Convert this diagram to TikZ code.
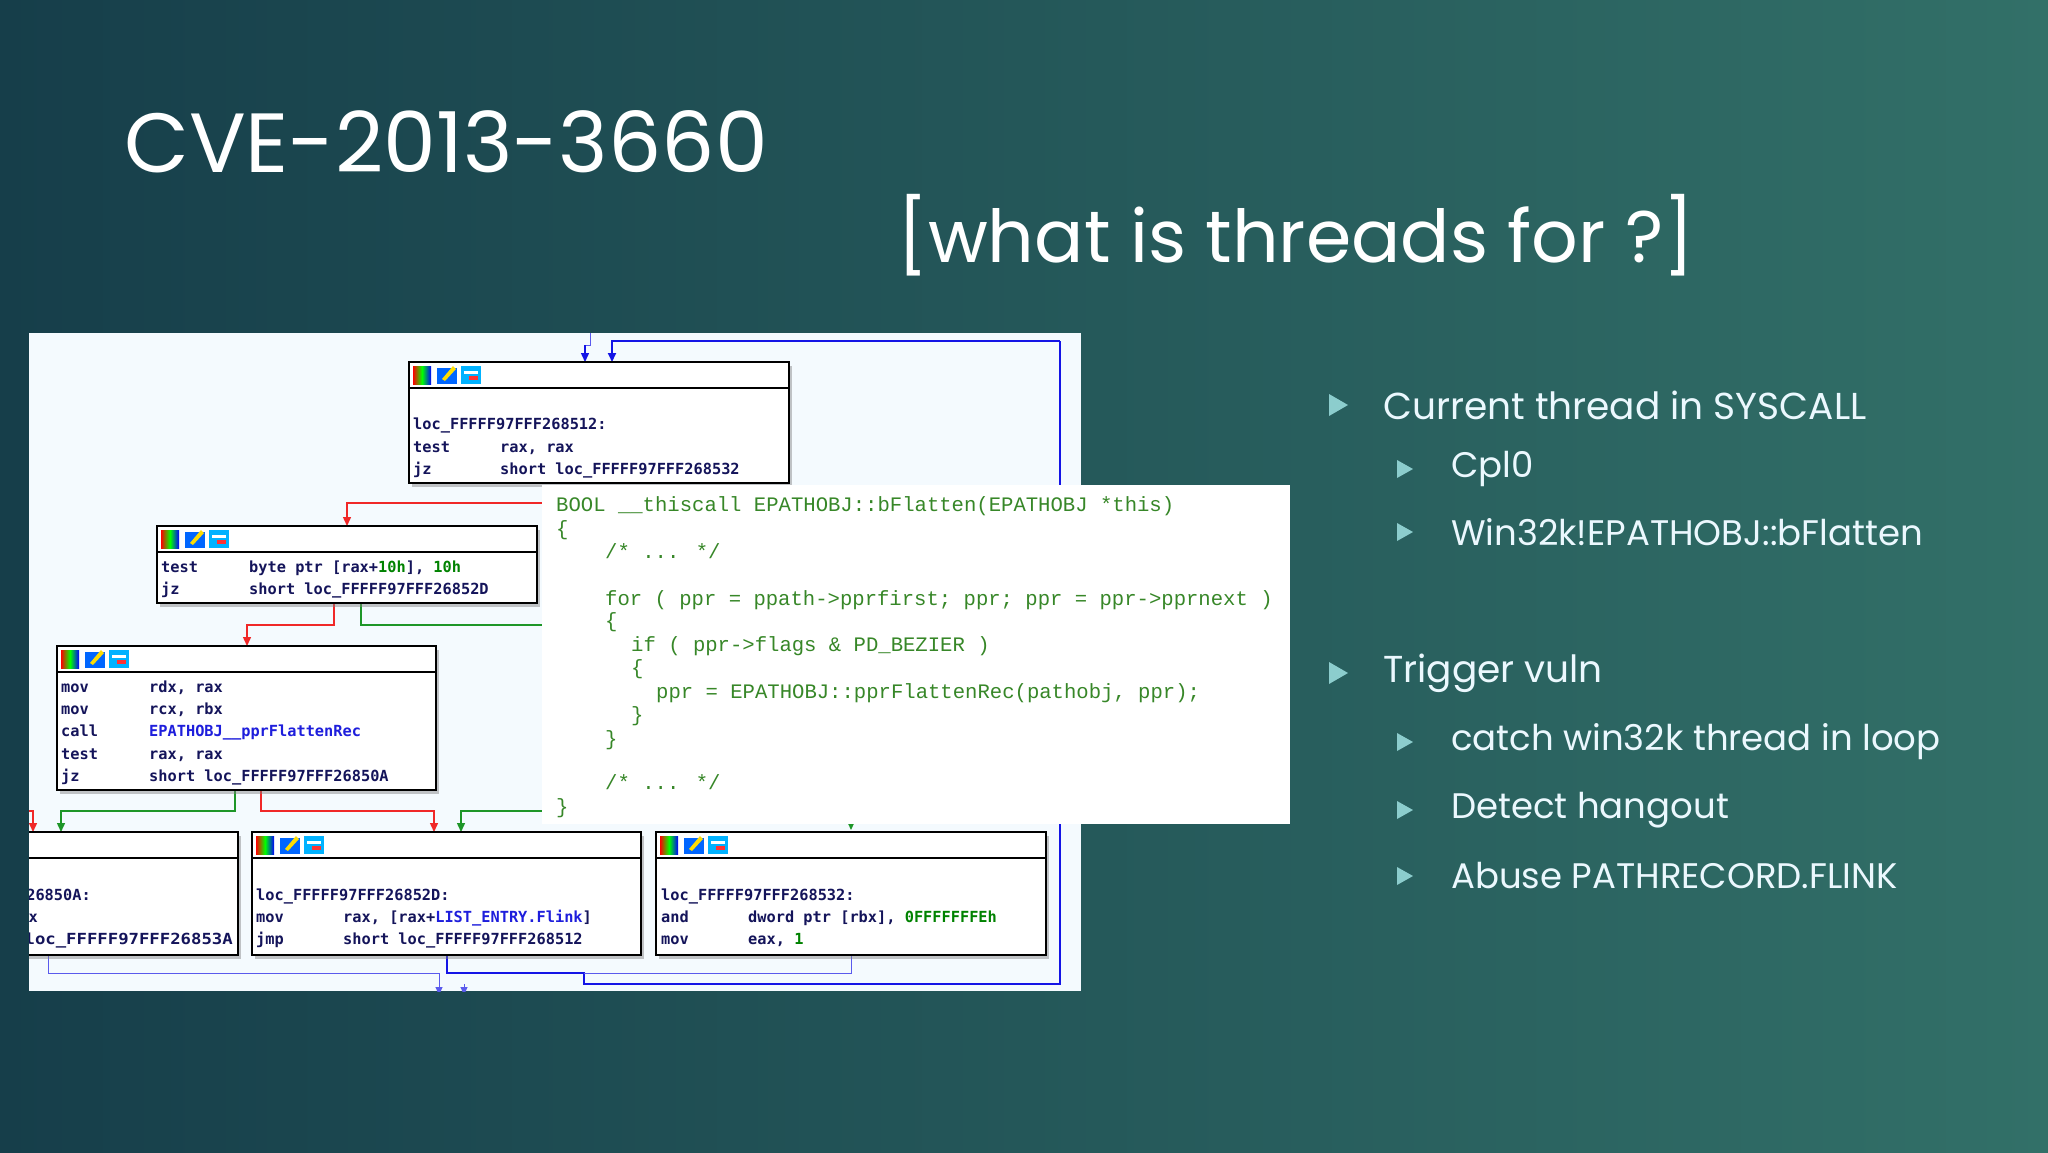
\documentclass[tikz,border=0pt]{standalone}
\usepackage{fontspec}
\setmainfont{Poppins}
\newfontfamily\asmfont{DejaVu Sans Mono}
\newfontfamily\codefont{Liberation Mono}
\usetikzlibrary{shadows,arrows.meta}
\definecolor{bgL}{RGB}{22,62,74}
\definecolor{bgR}{RGB}{50,112,104}
\definecolor{panel}{RGB}{244,250,254}
\definecolor{asm}{RGB}{20,20,90}
\definecolor{asmblue}{RGB}{30,30,220}
\definecolor{asmgreen}{RGB}{0,130,0}
\definecolor{codegreen}{RGB}{55,135,40}
\definecolor{eblue}{RGB}{20,20,230}
\definecolor{ered}{RGB}{240,40,40}
\definecolor{egreen}{RGB}{30,150,40}
\definecolor{tri}{RGB}{140,205,205}
\tikzset{
 blk/.style={draw=black,line width=1.3pt,fill=white,drop shadow={shadow xshift=3pt,shadow yshift=-4pt,opacity=.45}},
 al/.style={anchor=base west,inner sep=0pt,font=\asmfont\bfseries\fontsize{15.3}{18}\selectfont,text=asm},
 cl/.style={anchor=base west,inner sep=0pt,font=\codefont\fontsize{20.6}{24}\selectfont,text=codegreen},
 bt/.style={anchor=west,inner sep=0pt,font=\fontsize{37.5}{44}\selectfont,text=white!92!cyan},
 sbt/.style={anchor=west,inner sep=0pt,font=\fontsize{35.5}{42}\selectfont,text=white!92!cyan},
 trim/.style={fill=tri},
 be/.style={draw=eblue,line width=1.4pt,-{Triangle[width=8pt,length=9pt]}},
 bet/.style={draw=eblue!70!white,line width=1pt},
 re/.style={draw=ered,line width=1.4pt,-{Triangle[width=8pt,length=9pt]}},
 ge/.style={draw=egreen,line width=1.4pt,-{Triangle[width=8pt,length=9pt]}},
}
\newcommand{\icons}[2]{%
 \shade[left color=red,right color=blue,middle color=green] (#1+4,#2+4) rectangle (#1+22,#2+22);
 \fill[blue!60!cyan] (#1+28,#2+6) rectangle (#1+48,#2+22);
 \fill[yellow!80!orange] (#1+33,#2+17) -- (#1+44,#2+4) -- (#1+47,#2+7) -- (#1+36,#2+19) -- cycle;
 \fill[blue!30!cyan] (#1+52,#2+4) rectangle (#1+72,#2+22);
 \fill[white] (#1+55,#2+9) rectangle (#1+69,#2+12);
 \fill[red!80] (#1+60,#2+14) rectangle (#1+69,#2+18);
}
\begin{document}
\begin{tikzpicture}[x=1pt,y=-1pt]
\useasboundingbox (0,0) rectangle (2048,1152);
\fill[left color=bgL,right color=bgR] (0,0) rectangle (2048,1152);
% title
\node[anchor=base west,inner sep=0pt,font=\fontsize{84}{96}\selectfont,text=white] (title) at (124,172) {CVE-2013-3660};
\node[anchor=base west,inner sep=0pt,font=\fontsize{73}{84}\selectfont,text=white] (sub) at (897,262) {[what is threads for ?]};
% panel
\begin{scope}
\clip (29,333) rectangle (1081,991);
\fill[panel] (29,333) rectangle (1081,991);
% edges
\draw[bet] (590,333) -- (590,345) -- (585,345);
\draw[be] (585,345) -- (585,362);
\draw[be,line width=2pt] (1060,341) -- (612,341) -- (612,362);
\draw[eblue,line width=2pt] (447,955) -- (447,973) -- (584,973) -- (584,984) -- (1060,984) -- (1060,341);
\draw[bet] (851,955) -- (851,973) -- (584,973);
\draw[bet,-{Triangle[width=7pt,length=8pt]}] (48,955) -- (48,973) -- (439,973) -- (439,995);
\draw[bet,-{Triangle[width=7pt,length=8pt]}] (464,984) -- (464,995);
\draw[re] (542,503) -- (347,503) -- (347,526);
\draw[re] (334,603) -- (334,625) -- (247,625) -- (247,646);
\draw[egreen,line width=1.4pt] (361,603) -- (361,625) -- (542,625);
\draw[ge] (235,790) -- (235,811) -- (61,811) -- (61,832);
\draw[re] (20,811) -- (33,811) -- (33,832);
\draw[re] (261,790) -- (261,811) -- (434,811) -- (434,832);
\draw[ge] (542,811) -- (461,811) -- (461,832);
\draw[ge] (851,822) -- (851,830);
% block A
\filldraw[blk] (409,362) rectangle (789,483);
\draw[line width=1.2pt] (409,388) -- (789,388);
\icons{409}{362}
\node[al] (a1) at (413,429) {loc\_FFFFF97FFF268512:};
\node[al] (a2) at (413,452) {test};  \node[al] (a2o) at (500,452) {rax, rax};
\node[al] (a3) at (413,474) {jz};    \node[al] (a3o) at (500,474) {short loc\_FFFFF97FFF268532};
% block B
\filldraw[blk] (157,526) rectangle (537,603);
\draw[line width=1.2pt] (157,552) -- (537,552);
\icons{157}{526}
\node[al] (b1) at (161,572) {test}; \node[al] (b1o) at (249,572) {byte ptr [rax+\textcolor{asmgreen}{10h}], \textcolor{asmgreen}{10h}};
\node[al] (b2) at (161,594) {jz};   \node[al] (b2o) at (249,594) {short loc\_FFFFF97FFF26852D};
% block C
\filldraw[blk] (57,646) rectangle (436,790);
\draw[line width=1.2pt] (57,672) -- (436,672);
\icons{57}{646}
\node[al] (c1) at (61,692) {mov};  \node[al] (c1o) at (149,692) {rdx, rax};
\node[al] (c2) at (61,714) {mov};  \node[al] (c2o) at (149,714) {rcx, rbx};
\node[al] (c3) at (61,736) {call}; \node[al,text=asmblue] (c3o) at (149,736) {EPATHOBJ\_\_pprFlattenRec};
\node[al] (c4) at (61,759) {test}; \node[al] (c4o) at (149,759) {rax, rax};
\node[al] (c5) at (61,781) {jz};   \node[al] (c5o) at (149,781) {short loc\_FFFFF97FFF26850A};
% block D
\filldraw[blk] (-100,832) rectangle (238,955);
\draw[line width=1.2pt] (-100,858) -- (238,858);
\node[al,anchor=base east] (d1) at (91,900) {loc\_FFFFF97FFF26850A:};
\node[al,anchor=base east] (d2) at (38,922) {eax, eax};
\node[al,anchor=base east,xscale=1.13] (d3) at (233,944) {loc\_FFFFF97FFF26853A};
% block E
\filldraw[blk] (252,832) rectangle (641,955);
\draw[line width=1.2pt] (252,858) -- (641,858);
\icons{252}{832}
\node[al] (e1) at (256,900) {loc\_FFFFF97FFF26852D:};
\node[al] (e2) at (256,922) {mov}; \node[al] (e2o) at (343,922) {rax, [rax+\textcolor{asmblue}{LIST\_ENTRY.Flink}]};
\node[al] (e3) at (256,944) {jmp}; \node[al] (e3o) at (343,944) {short loc\_FFFFF97FFF268512};
% block F
\filldraw[blk] (656,832) rectangle (1046,955);
\draw[line width=1.2pt] (656,858) -- (1046,858);
\icons{656}{832}
\node[al] (f1) at (661,900) {loc\_FFFFF97FFF268532:};
\node[al] (f2) at (661,922) {and}; \node[al] (f2o) at (748,922) {dword ptr [rbx], \textcolor{asmgreen}{0FFFFFFFEh}};
\node[al] (f3) at (661,944) {mov}; \node[al] (f3o) at (748,944) {eax, \textcolor{asmgreen}{1}};
\end{scope}
% code popup
\fill[white] (542,485) rectangle (1290,824);
\node[cl] (k1) at (556,511) {BOOL \_\_thiscall EPATHOBJ::bFlatten(EPATHOBJ *this)};
\node[cl] (k2) at (556,535) {\{};
\node[cl] (k3) at (605,558) {/* ... */};
\node[cl] (k4) at (605,605) {for ( ppr = ppath->pprfirst; ppr; ppr = ppr->pprnext )};
\node[cl] (k5) at (605,627) {\{};
\node[cl] (k6) at (631,651) {if ( ppr->flags \& PD\_BEZIER )};
\node[cl] (k7) at (631,674) {\{};
\node[cl] (k8) at (656,698) {ppr = EPATHOBJ::pprFlattenRec(pathobj, ppr);};
\node[cl] (k9) at (631,721) {\}};
\node[cl] (k10) at (605,745) {\}};
\node[cl] (k11) at (605,789) {/* ... */};
\node[cl] (k12) at (556,813) {\}};
% bullets
\fill[trim] (1329,394) -- (1348,405) -- (1329,416) -- cycle;
\node[bt] (t1) at (1383,405) {Current thread in SYSCALL};
\fill[trim] (1397,460) -- (1413,469) -- (1397,478) -- cycle;
\node[sbt] (t2) at (1451,469) {Cpl0};
\fill[trim] (1397,523) -- (1413,532) -- (1397,541) -- cycle;
\node[sbt] (t3) at (1451,532) {Win32k!EPATHOBJ::bFlatten};
\fill[trim] (1329,662) -- (1348,673) -- (1329,684) -- cycle;
\node[bt] (t4) at (1383,673) {Trigger vuln};
\fill[trim] (1397,733) -- (1413,742) -- (1397,751) -- cycle;
\node[sbt] (t5) at (1451,742) {catch win32k thread in loop};
\fill[trim] (1397,801) -- (1413,810) -- (1397,819) -- cycle;
\node[sbt] (t6) at (1451,810) {Detect hangout};
\fill[trim] (1397,867) -- (1413,876) -- (1397,885) -- cycle;
\node[sbt] (t7) at (1451,876) {Abuse PATHRECORD.FLINK};
\end{tikzpicture}
\end{document}
